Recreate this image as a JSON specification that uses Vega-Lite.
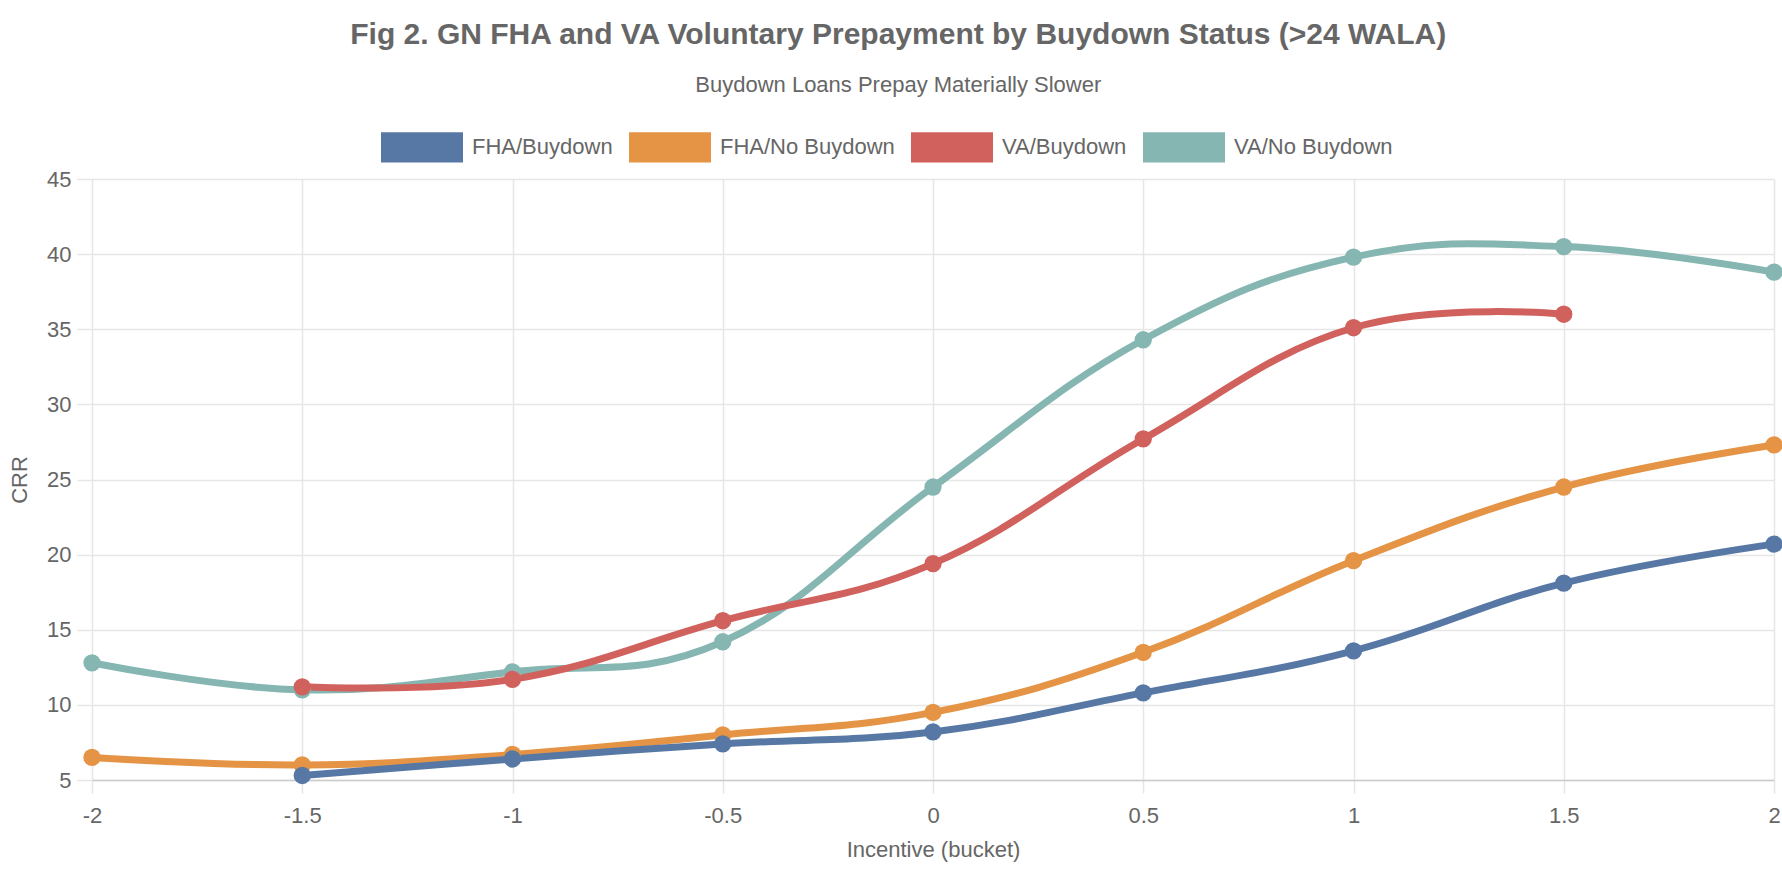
{
  "$schema": "https://vega.github.io/schema/vega-lite/v6.json",
  "width": 1682,
  "height": 601,
  "autosize": {"type": "none"},
  "padding": {"left": 92, "top": 179, "right": 8, "bottom": 100},
  "background": "white",
  "title": {
    "text": "Fig 2. GN FHA and VA Voluntary Prepayment by Buydown Status (>24 WALA)",
    "subtitle": "Buydown Loans Prepay Materially Slower",
    "anchor": "middle",
    "frame": "bounds",
    "font": "Liberation Sans",
    "fontSize": 30,
    "fontWeight": "bold",
    "color": "#666666",
    "subtitleFont": "Liberation Sans",
    "subtitleFontSize": 22,
    "subtitleColor": "#666666",
    "subtitlePadding": 25,
    "offset": 10
  },
  "config": {
    "view": {"stroke": null},
    "font": "Liberation Sans",
    "axis": {
      "labelFont": "Liberation Sans",
      "labelFontSize": 22,
      "labelColor": "#666666",
      "titleFont": "Liberation Sans",
      "titleFontSize": 22,
      "titleFontWeight": "normal",
      "titleColor": "#666666",
      "gridColor": "#e6e6e6",
      "gridWidth": 1.5,
      "tickColor": "#e6e6e6",
      "tickWidth": 1.5,
      "domainColor": "#cccccc",
      "domainWidth": 1.5
    }
  },
  "data": {
    "values": [
      {"incentive": -2, "crr": 12.8, "series": "VA/No Buydown"},
      {"incentive": -1.5, "crr": 11.0, "series": "VA/No Buydown"},
      {"incentive": -1, "crr": 12.2, "series": "VA/No Buydown"},
      {"incentive": -0.5, "crr": 14.2, "series": "VA/No Buydown"},
      {"incentive": 0, "crr": 24.5, "series": "VA/No Buydown"},
      {"incentive": 0.5, "crr": 34.3, "series": "VA/No Buydown"},
      {"incentive": 1, "crr": 39.8, "series": "VA/No Buydown"},
      {"incentive": 1.5, "crr": 40.5, "series": "VA/No Buydown"},
      {"incentive": 2, "crr": 38.8, "series": "VA/No Buydown"},
      {"incentive": -1.5, "crr": 11.2, "series": "VA/Buydown"},
      {"incentive": -1, "crr": 11.7, "series": "VA/Buydown"},
      {"incentive": -0.5, "crr": 15.6, "series": "VA/Buydown"},
      {"incentive": 0, "crr": 19.4, "series": "VA/Buydown"},
      {"incentive": 0.5, "crr": 27.7, "series": "VA/Buydown"},
      {"incentive": 1, "crr": 35.1, "series": "VA/Buydown"},
      {"incentive": 1.5, "crr": 36.0, "series": "VA/Buydown"},
      {"incentive": -2, "crr": 6.5, "series": "FHA/No Buydown"},
      {"incentive": -1.5, "crr": 6.0, "series": "FHA/No Buydown"},
      {"incentive": -1, "crr": 6.7, "series": "FHA/No Buydown"},
      {"incentive": -0.5, "crr": 8.0, "series": "FHA/No Buydown"},
      {"incentive": 0, "crr": 9.5, "series": "FHA/No Buydown"},
      {"incentive": 0.5, "crr": 13.5, "series": "FHA/No Buydown"},
      {"incentive": 1, "crr": 19.6, "series": "FHA/No Buydown"},
      {"incentive": 1.5, "crr": 24.5, "series": "FHA/No Buydown"},
      {"incentive": 2, "crr": 27.3, "series": "FHA/No Buydown"},
      {"incentive": -1.5, "crr": 5.3, "series": "FHA/Buydown"},
      {"incentive": -1, "crr": 6.4, "series": "FHA/Buydown"},
      {"incentive": -0.5, "crr": 7.4, "series": "FHA/Buydown"},
      {"incentive": 0, "crr": 8.2, "series": "FHA/Buydown"},
      {"incentive": 0.5, "crr": 10.8, "series": "FHA/Buydown"},
      {"incentive": 1, "crr": 13.6, "series": "FHA/Buydown"},
      {"incentive": 1.5, "crr": 18.1, "series": "FHA/Buydown"},
      {"incentive": 2, "crr": 20.7, "series": "FHA/Buydown"}
    ]
  },
  "mark": {
    "type": "line",
    "interpolate": "cardinal",
    "tension": -0.2,
    "strokeWidth": 7,
    "point": {"filled": true, "size": 300, "opacity": 1}
  },
  "encoding": {
    "x": {
      "field": "incentive",
      "type": "quantitative",
      "title": "Incentive (bucket)",
      "scale": {"domain": [-2, 2], "nice": false, "zero": false},
      "axis": {
        "values": [-2, -1.5, -1, -0.5, 0, 0.5, 1, 1.5, 2],
        "labelExpr": "toString(datum.value)",
        "tickSize": 13,
        "labelPadding": 12,
        "titlePadding": 13,
        "labelFlush": false
      }
    },
    "y": {
      "field": "crr",
      "type": "quantitative",
      "title": "CRR",
      "scale": {"domain": [5, 45], "nice": false, "zero": false},
      "axis": {
        "values": [5, 10, 15, 20, 25, 30, 35, 40, 45],
        "tickSize": 15,
        "labelPadding": 6,
        "titlePadding": 15,
        "domain": false,
        "labelFlush": false
      }
    },
    "color": {
      "field": "series",
      "type": "nominal",
      "scale": {
        "domain": ["FHA/Buydown", "FHA/No Buydown", "VA/Buydown", "VA/No Buydown"],
        "range": ["#5778a4", "#e49444", "#d1615d", "#85b6b2"]
      },
      "legend": {
        "title": null,
        "orient": "none",
        "direction": "horizontal",
        "legendX": 289,
        "legendY": -73,
        "padding": 0,
        "symbolType": "M-1,-0.37L1,-0.37L1,0.37L-1,0.37Z",
        "symbolSize": 6724,
        "symbolStrokeWidth": 0,
        "symbolOpacity": 1,
        "labelFont": "Liberation Sans",
        "labelFontSize": 22,
        "labelColor": "#666666",
        "labelOffset": 9,
        "columnPadding": 16,
        "labelLimit": 400
      }
    }
  }
}
